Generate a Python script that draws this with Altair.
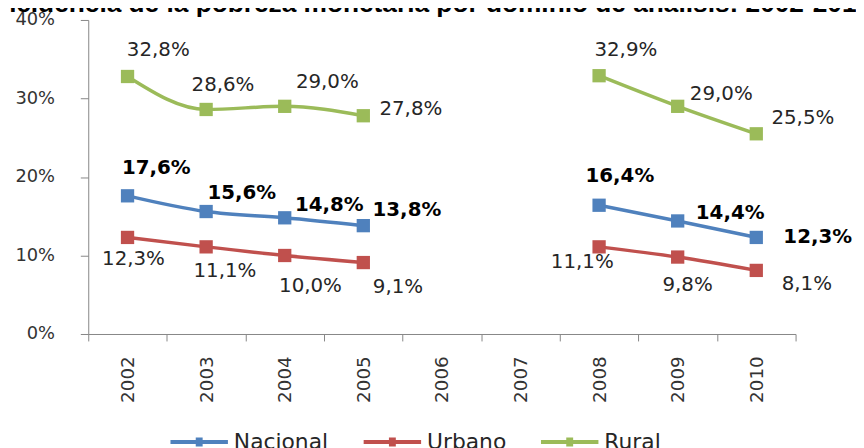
import altair as alt
import pandas as pd

# ---- data ----
years = ["2002", "2003", "2004", "2005", "2006", "2007", "2008", "2009", "2010"]
series_names = ["Nacional", "Urbano", "Rural"]
nacional = [17.6, 15.6, 14.8, 13.8, None, None, 16.4, 14.4, 12.3]
urbano = [12.3, 11.1, 10.0, 9.1, None, None, 11.1, 9.8, 8.1]
rural = [32.8, 28.6, 29.0, 27.8, None, None, 32.9, 29.0, 25.5]
y_ticks = [0, 0.1, 0.2, 0.3, 0.4]
title_text = "Incidencia de la pobreza monetaria por dominio de análisis: 2002-2010"

# ---- styling / layout ----
colors = ["#4F81BD", "#C0504D", "#9BBB59"]
plot_w, plot_h = 714, 317
y_max = 0.4
band_half = plot_w / len(years) / 2.0
px_per_unit = plot_h / y_max
# label offsets from their point, in pixels (label placement)
label_dx = {
    "Nacional": [29, 36, 45, 44, None, None, 21, 53, 62],
    "Urbano": [6, 19, 26, 35, None, None, -17, 10, 51],
    "Rural": [31, 17, 43, 48, None, None, 27, 44, 47],
}
label_dy = {
    "Nacional": [-28, -19, -13, -16, None, None, -29, -8, 0],
    "Urbano": [22, 24, 31, 25, None, None, 15, 28, 14],
    "Rural": [-27, -25, -25, -7, None, None, -26, -12, -16],
}

rows = []
for name, vals in zip(series_names, [nacional, urbano, rural]):
    for i, (yr, v) in enumerate(zip(years, vals)):
        if v is None:
            continue
        rows.append({
            "year": yr,
            "series": name,
            "value": v / 100.0,
            "label": f"{v:.1f}%".replace(".", ","),
            "period": "a" if int(yr) <= 2005 else "b",
            "label_x_off": label_dx[name][i] + band_half,
            "label_value": v / 100.0 - label_dy[name][i] / px_per_unit,
        })
df = pd.DataFrame(rows)

axis_gray = "#868686"
x_scale = alt.Scale(type="band", domain=years, paddingInner=0, paddingOuter=0)
y_scale = alt.Scale(domain=[0, y_max])
x_axis = alt.Axis(
    title=None, labelAngle=270, tickBand="extent", tickSize=7,
    labelPadding=15, labelFont="DejaVu Sans", labelFontSize=18.5,
    labelColor="#333333", domainColor=axis_gray, tickColor=axis_gray,
    grid=False,
)
y_axis = alt.Axis(
    title=None, format=".0%", values=y_ticks, tickSize=8,
    labelPadding=26, labelFont="DejaVu Sans", labelFontSize=18,
    labelColor="#333333", domainColor=axis_gray, tickColor=axis_gray,
    grid=False,
)

legend_symbol = (
    "M-1,0H1"
    "M-0.12,-0.086H0.12M-0.12,-0.043H0.12M-0.12,0H0.12"
    "M-0.12,0.043H0.12M-0.12,0.086H0.12"
)

base = alt.Chart(df)

lines = base.mark_line(
    interpolate="monotone", strokeWidth=3.5,
    point=alt.OverlayMarkDef(shape="square", size=180, filled=True, opacity=1),
).encode(
    x=alt.X("year:N", scale=x_scale, axis=x_axis),
    y=alt.Y("value:Q", scale=y_scale, axis=y_axis),
    color=alt.Color(
        "series:N",
        scale=alt.Scale(domain=series_names, range=colors),
        legend=alt.Legend(
            title=None, orient="none", legendX=81, legendY=415,
            direction="horizontal", symbolType=legend_symbol, symbolSize=3364,
            symbolStrokeWidth=4, labelFont="DejaVu Sans", labelFontSize=22,
            labelColor="#262626", columnPadding=33, labelOffset=4,
            clipHeight=22,
        ),
    ),
    detail="period:N",
)


def label_layer(condition, weight, color):
    return base.transform_filter(condition).mark_text(
        font="DejaVu Sans", fontSize=20, fontWeight=weight, align="center",
        baseline="middle", color=color,
    ).encode(
        x=alt.X("year:N", scale=x_scale, axis=x_axis),
        y=alt.Y("label_value:Q", scale=y_scale, axis=y_axis),
        text="label:N",
        xOffset=alt.XOffset("label_x_off:Q", scale=None),
    )


labels_plain = label_layer(alt.datum.series != "Nacional", "normal", "#262626")
labels_bold = label_layer(alt.datum.series == "Nacional", "bold", "#000000")

chart = alt.layer(lines, labels_plain, labels_bold).properties(
    width=plot_w,
    height=plot_h,
    autosize=alt.AutoSizeParams(type="none"),
    padding={"left": 81, "top": 10, "right": 61, "bottom": 113},
    title=alt.TitleParams(
        text=title_text, font="Liberation Sans", fontSize=26.5,
        fontWeight="bold", color="#000000", anchor="middle", offset=-6, dx=-10,
    ),
    background="white",
).configure_view(stroke=None)

chart.save("out.html", embed_options={"renderer": "svg", "actions": False})
